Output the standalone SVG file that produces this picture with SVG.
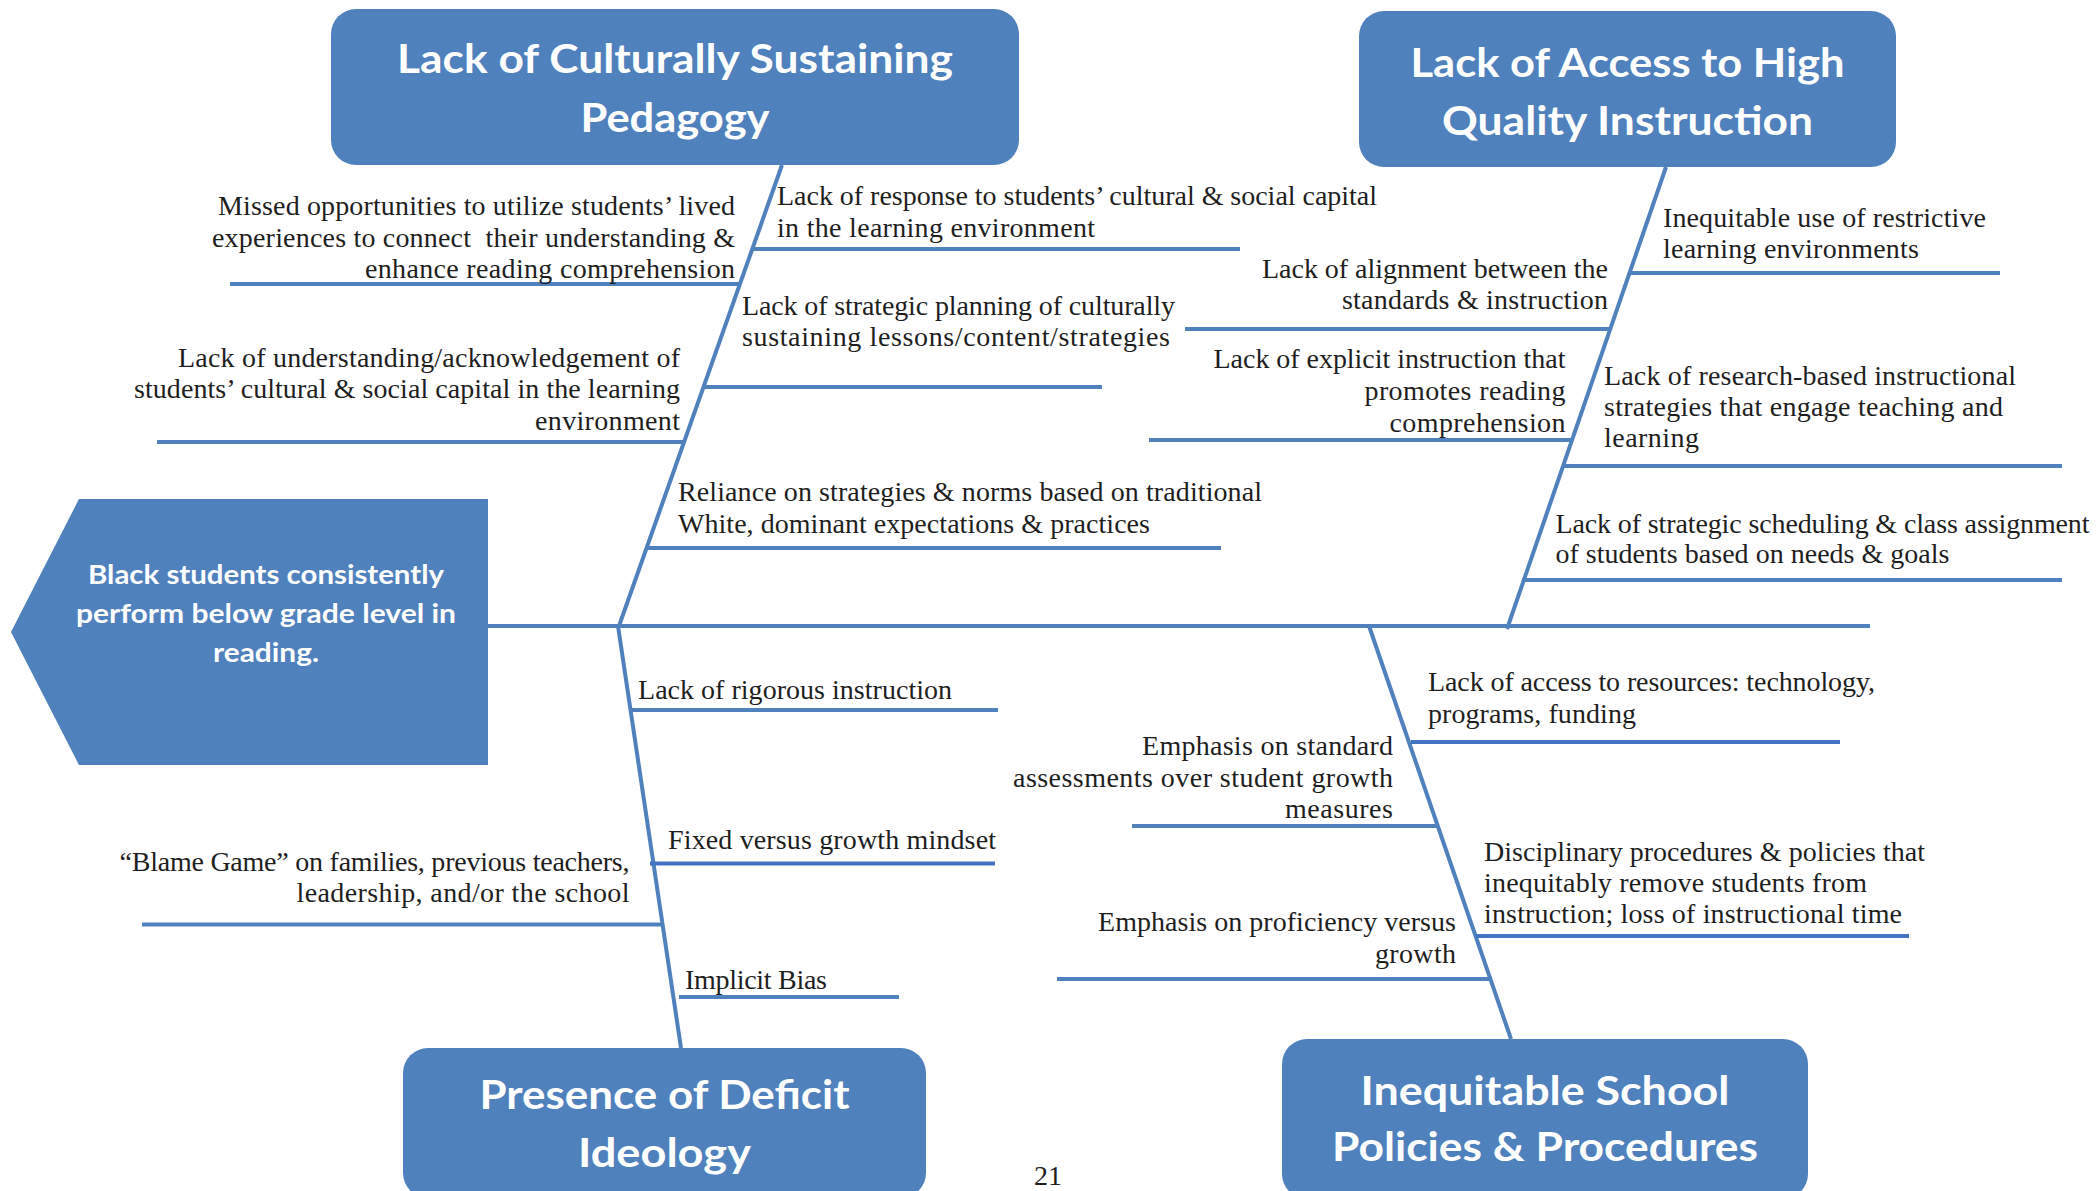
<svg xmlns="http://www.w3.org/2000/svg" width="2097" height="1191" viewBox="0 0 2097 1191">
  <style>
    .box{fill:#4F81BD}
    .ttl{font-family:Lato,"Open Sans","Liberation Sans",sans-serif;font-weight:700;fill:#fff;text-anchor:middle}
    .big{font-size:40px}
    .mid{font-size:27px}
    .t{font-family:"Liberation Serif","Times New Roman",serif;font-size:28px;fill:#1e1e1e}
    .r{text-anchor:end}
    .ln{stroke:#4F81BD;stroke-width:4;fill:none}
    .dk{stroke:#4472C4}
  </style>
  <rect width="2097" height="1191" fill="#fff"/>

  <!-- fishbone: spine, category bones and cause lines -->
  <g id="connectors">
    <path class="ln" d="M488 626H1870" stroke-width="4.5"/>
    <path class="ln" d="M782 165L619 626"/>
    <path class="ln" d="M1666 167L1507 629"/>
    <path class="ln" d="M618 626L681 1048"/>
    <path class="ln" d="M1369 626L1511 1039"/>

    <path class="ln" d="M230 284H740"/>
    <path class="ln" d="M752 249H1240"/>
    <path class="ln" d="M703 387H1102"/>
    <path class="ln" d="M157 442H684"/>
    <path class="ln" d="M647 548H1221"/>

    <path class="ln" d="M631 710H998"/>
    <path class="ln dk" d="M650 863.5H995"/>
    <path class="ln" d="M142 924.5H663"/>
    <path class="ln" d="M679 997H899"/>

    <path class="ln" d="M1630 273H2000"/>
    <path class="ln" d="M1185 329H1610"/>
    <path class="ln" d="M1149 440H1572"/>
    <path class="ln" d="M1563 466H2062"/>
    <path class="ln" d="M1522 580H2062"/>

    <path class="ln dk" d="M1411 742H1840"/>
    <path class="ln" d="M1132 826H1439"/>
    <path class="ln dk" d="M1476 936H1909"/>
    <path class="ln" d="M1057 979H1490"/>
  </g>

  <!-- effect (fish head) -->
  <g id="effect">
    <polygon class="box" points="79,499 488,499 488,765 79,765 11,632"/>
    <text class="ttl mid" x="266" y="584.3" textLength="356" lengthAdjust="spacingAndGlyphs">Black students consistently</text>
    <text class="ttl mid" x="266" y="623.3" textLength="380" lengthAdjust="spacingAndGlyphs">perform below grade level in</text>
    <text class="ttl mid" x="266" y="661.7" textLength="106" lengthAdjust="spacingAndGlyphs">reading.</text>
  </g>

  <!-- category boxes -->
  <g id="cat-pedagogy">
    <rect class="box" x="331" y="9" width="688" height="156" rx="25"/>
    <text class="ttl big" x="675" y="73.3" textLength="556" lengthAdjust="spacingAndGlyphs">Lack of Culturally Sustaining</text>
    <text class="ttl big" x="675" y="131.7" textLength="189" lengthAdjust="spacingAndGlyphs">Pedagogy</text>
  </g>
  <g id="cat-instruction">
    <rect class="box" x="1359" y="11" width="537" height="156" rx="25"/>
    <text class="ttl big" x="1627.5" y="76.7" textLength="434" lengthAdjust="spacingAndGlyphs">Lack of Access to High</text>
    <text class="ttl big" x="1627.5" y="135" textLength="371" lengthAdjust="spacingAndGlyphs">Quality Instruction</text>
  </g>
  <g id="cat-deficit">
    <rect class="box" x="403" y="1048" width="523" height="150" rx="25"/>
    <text class="ttl big" x="664.5" y="1109" textLength="370" lengthAdjust="spacingAndGlyphs">Presence of Deficit</text>
    <text class="ttl big" x="664.5" y="1167" textLength="173" lengthAdjust="spacingAndGlyphs">Ideology</text>
  </g>
  <g id="cat-policies">
    <rect class="box" x="1282" y="1039" width="526" height="160" rx="25"/>
    <text class="ttl big" x="1545" y="1104.5" textLength="369" lengthAdjust="spacingAndGlyphs">Inequitable School</text>
    <text class="ttl big" x="1545" y="1161" textLength="426" lengthAdjust="spacingAndGlyphs">Policies &amp; Procedures</text>
  </g>

  <!-- causes: culturally sustaining pedagogy -->
  <g id="cause-missed" class="t r">
    <text x="735" y="215" textLength="517">Missed opportunities to utilize students’ lived</text>
    <text x="735" y="246.7" textLength="523" xml:space="preserve">experiences to connect  their understanding &amp;</text>
    <text x="735" y="277.7" textLength="370">enhance reading comprehension</text>
  </g>
  <g id="cause-response" class="t">
    <text x="777" y="205" textLength="600">Lack of response to students’ cultural &amp; social capital</text>
    <text x="777" y="236.7" textLength="318">in the learning environment</text>
  </g>
  <g id="cause-planning" class="t">
    <text x="742" y="315" textLength="433">Lack of strategic planning of culturally</text>
    <text x="742" y="345.7" textLength="428">sustaining lessons/content/strategies</text>
  </g>
  <g id="cause-understanding" class="t r">
    <text x="680" y="366.7" textLength="502">Lack of understanding/acknowledgement of</text>
    <text x="680" y="398.3" textLength="546">students’ cultural &amp; social capital in the learning</text>
    <text x="680" y="430" textLength="145">environment</text>
  </g>
  <g id="cause-reliance" class="t">
    <text x="678" y="501" textLength="584">Reliance on strategies &amp; norms based on traditional</text>
    <text x="678" y="533" textLength="472">White, dominant expectations &amp; practices</text>
  </g>

  <!-- causes: deficit ideology -->
  <g id="cause-rigorous" class="t">
    <text x="638" y="699" textLength="314">Lack of rigorous instruction</text>
  </g>
  <g id="cause-mindset" class="t">
    <text x="668" y="849" textLength="328">Fixed versus growth mindset</text>
  </g>
  <g id="cause-blame" class="t r">
    <text x="629.5" y="871" textLength="510">“Blame Game” on families, previous teachers,</text>
    <text x="629.5" y="902" textLength="333">leadership, and/or the school</text>
  </g>
  <g id="cause-bias" class="t">
    <text x="685" y="989" textLength="142">Implicit Bias</text>
  </g>

  <!-- causes: access to high quality instruction -->
  <g id="cause-restrictive" class="t">
    <text x="1663" y="226.7" textLength="323">Inequitable use of restrictive</text>
    <text x="1663" y="258.3" textLength="256">learning environments</text>
  </g>
  <g id="cause-alignment" class="t r">
    <text x="1608" y="278.3" textLength="346">Lack of alignment between the</text>
    <text x="1608" y="309.3" textLength="266">standards &amp; instruction</text>
  </g>
  <g id="cause-explicit" class="t r">
    <text x="1565.5" y="368.3" textLength="352">Lack of explicit instruction that</text>
    <text x="1565.5" y="400" textLength="201">promotes reading</text>
    <text x="1565.5" y="431.7" textLength="176">comprehension</text>
  </g>
  <g id="cause-research" class="t">
    <text x="1604" y="385" textLength="412">Lack of research-based instructional</text>
    <text x="1604" y="415.7" textLength="399">strategies that engage teaching and</text>
    <text x="1604" y="446.7" textLength="95">learning</text>
  </g>
  <g id="cause-scheduling" class="t">
    <text x="1555.5" y="532.7" textLength="534">Lack of strategic scheduling &amp; class assignment</text>
    <text x="1555.5" y="563.4" textLength="394">of students based on needs &amp; goals</text>
  </g>

  <!-- causes: school policies & procedures -->
  <g id="cause-resources" class="t">
    <text x="1428" y="691" textLength="447">Lack of access to resources: technology,</text>
    <text x="1428" y="723" textLength="208">programs, funding</text>
  </g>
  <g id="cause-assessments" class="t r">
    <text x="1393" y="755" textLength="251">Emphasis on standard</text>
    <text x="1393" y="786.5" textLength="380">assessments over student growth</text>
    <text x="1393" y="818" textLength="108">measures</text>
  </g>
  <g id="cause-discipline" class="t">
    <text x="1484" y="861" textLength="441">Disciplinary procedures &amp; policies that</text>
    <text x="1484" y="892" textLength="383">inequitably remove students from</text>
    <text x="1484" y="923" textLength="418">instruction; loss of instructional time</text>
  </g>
  <g id="cause-proficiency" class="t r">
    <text x="1456" y="931" textLength="358">Emphasis on proficiency versus</text>
    <text x="1456" y="963" textLength="81">growth</text>
  </g>

  <text id="page-number" class="t" x="1048" y="1185" font-size="30" text-anchor="middle">21</text>
</svg>
